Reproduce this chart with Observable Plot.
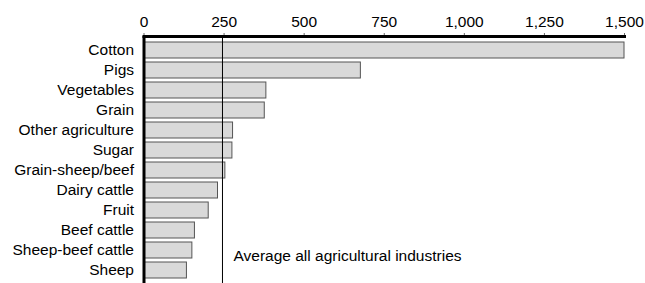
<!DOCTYPE html>
<html>
<head>
<meta charset="utf-8">
<script src="https://cdn.jsdelivr.net/npm/d3@7"></script>
<script src="https://cdn.jsdelivr.net/npm/@observablehq/plot@0.6"></script>
<style>
  html, body { margin: 0; padding: 0; background: #fff; }
  #chart svg { display: block; }
</style>
</head>
<body>
<div id="chart"></div>
<script>
const industries = ["Cotton", "Pigs", "Vegetables", "Grain", "Other agriculture", "Sugar",
  "Grain-sheep/beef", "Dairy cattle", "Fruit", "Beef cattle", "Sheep-beef cattle", "Sheep"];
const values = [1500, 677, 382, 377, 278, 276, 254, 231, 202, 159, 151, 134];
const averageValue = 245;
const averageLabel = "Average all agricultural industries";
const xTicks = [0, 250, 500, 750, 1000, 1250, 1500];

const data = industries.map((name, i) => ({name, value: values[i]}));

const chart = Plot.plot({
  width: 645,
  height: 283,
  marginLeft: 143.5,
  marginRight: 21,
  marginTop: 36,
  marginBottom: 0,
  style: {fontFamily: "'Liberation Sans', Arial, sans-serif", fontSize: "15.5px", color: "#000", background: "#fff"},
  x: {domain: [0, 1500], ticks: xTicks, tickFormat: d3.format(","), label: null},
  y: {domain: industries, range: [40, 280], padding: 0, label: null},
  marks: [
    Plot.barX(data, {x: "value", y: "name", fill: "#d9d9d9", stroke: "#555", strokeWidth: 1, insetTop: 2, insetBottom: 2}),
    Plot.ruleX([averageValue], {stroke: "#000", strokeWidth: 1}),
    Plot.text([averageLabel], {x: averageValue, y: () => "Sheep-beef cattle", text: d => d, textAnchor: "start", dx: 11, dy: 6, fill: "#000"}),
    Plot.axisX({anchor: "top", ticks: xTicks, tickSize: 4, tickPadding: 6, stroke: "#666", label: null, tickFormat: d3.format(",")}),
    Plot.axisY({tickSize: 0, tickPadding: 10, label: null}),
    Plot.frame({anchor: "top", stroke: "#000", strokeWidth: 3}),
    Plot.ruleX([0], {stroke: "#000", strokeWidth: 3})
  ]
});
document.getElementById("chart").append(chart);
</script>
</body>
</html>
